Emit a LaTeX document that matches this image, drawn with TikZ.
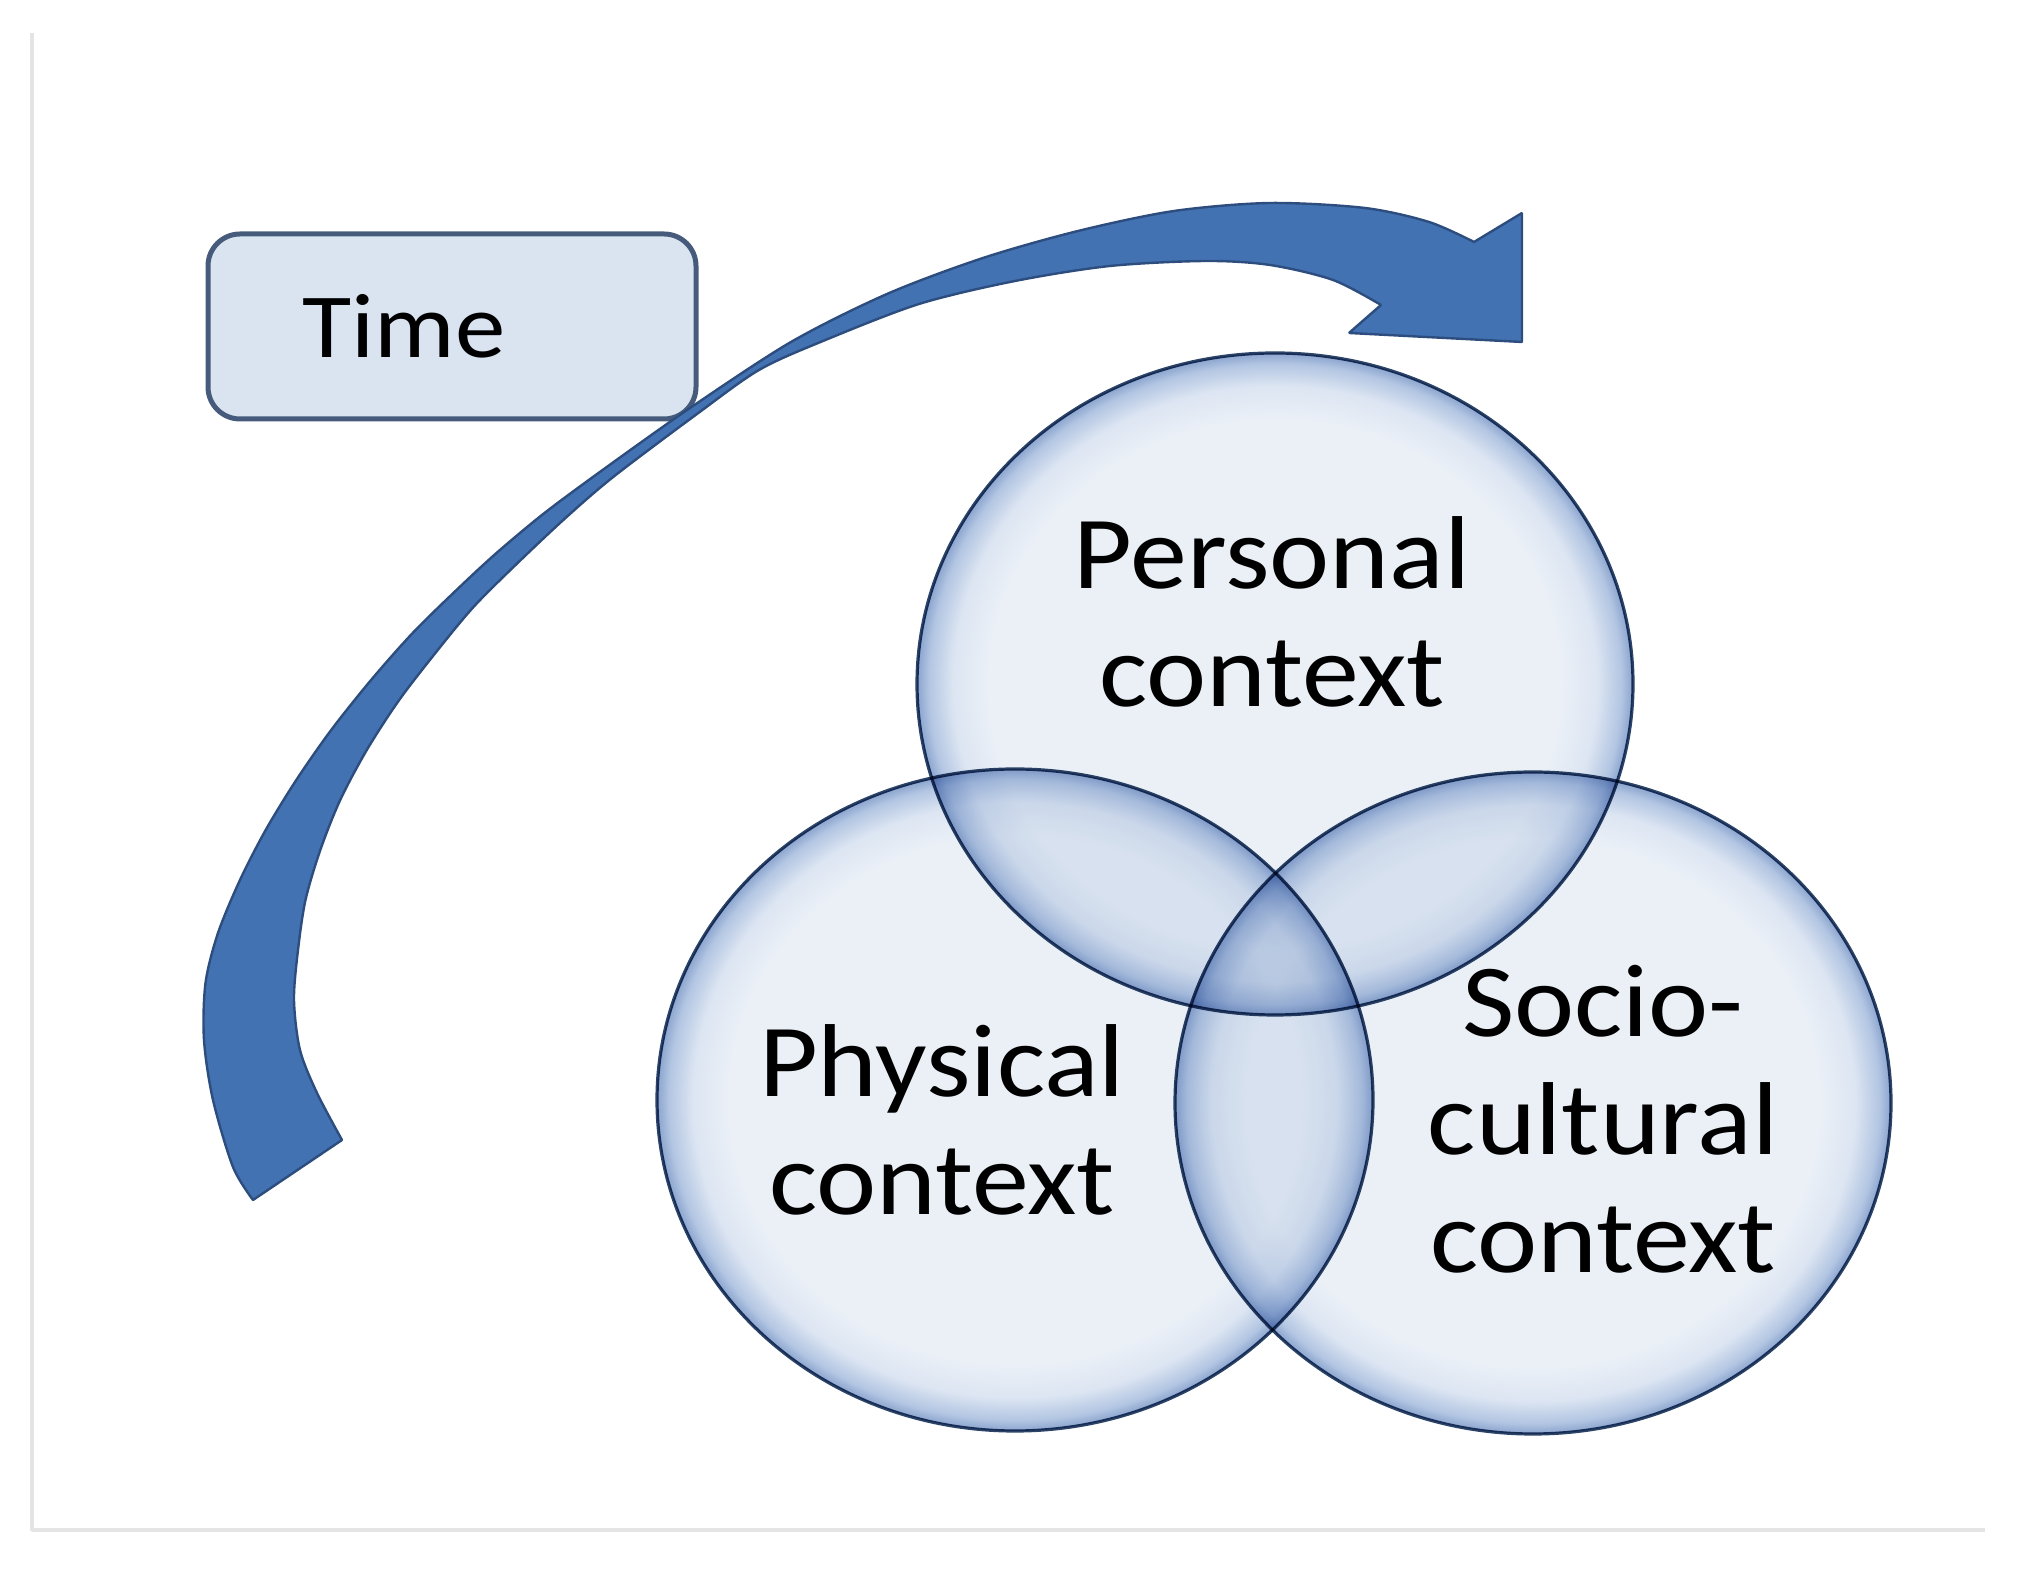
\documentclass[tikz,border=0pt]{standalone}
\usepackage{fontspec}
\setmainfont{Carlito}[FakeStretch=1.1]
\usetikzlibrary{shapes.geometric}
\definecolor{vennmid}{HTML}{EBF0F7}
\definecolor{vennsoft}{HTML}{DCE5F2}
\definecolor{vennrim}{HTML}{B2C5E2}
\definecolor{vennedge}{HTML}{8AA4CE}
\definecolor{vennline}{HTML}{2B4468}
\definecolor{boxfill}{HTML}{DAE4F1}
\definecolor{boxline}{HTML}{465B7C}
\definecolor{arrowfill}{HTML}{4372B3}
\definecolor{arrowline}{HTML}{2C4D7E}
\definecolor{framegray}{HTML}{E4E4E4}
\pgfdeclareradialshading{vennglass}{\pgfpoint{0bp}{0bp}}{color(0bp)=(vennmid);color(20bp)=(vennmid);color(22.5bp)=(vennsoft);color(24.2bp)=(vennrim);color(25bp)=(vennedge);color(50bp)=(vennedge)}
\begin{document}
\begin{tikzpicture}[>=latex,line join=bevel,
  venn/.style={ellipse,draw=vennline,line width=1.6bp,shading=vennglass,minimum width=358bp,minimum height=331bp,inner sep=0pt},
  vennlabel/.style={anchor=base,inner sep=0pt,font={\fontsize{52}{59}\selectfont}},
  timebox/.style={draw=boxline,fill=boxfill,line width=2.5bp,rounded corners=16bp,minimum width=244bp,minimum height=92.5bp,inner sep=0pt},
  timearrow/.style={draw=arrowline,fill=arrowfill,line width=1.2bp}]
\useasboundingbox (0bp,0bp) rectangle (1015bp,785.5bp);
%%
\draw [framegray,line width=2bp] (16bp,769bp) -- (16bp,20.5bp) -- (992.5bp,20.5bp);
%
\node (time_box) at (226bp,622.25bp) [timebox] {};
  \node (time_text) at (151bp,606.5bp) [anchor=base west,inner sep=0pt,font={\fontsize{46}{55}\selectfont}] {Time};
%
\draw [timearrow] plot [smooth,tension=0.5] coordinates {(126.5bp,185.5bp) (116.5bp,202bp) (106.5bp,235.5bp) (102bp,265.5bp) (102.75bp,294bp) (109bp,319bp) (120bp,345.5bp) (132.85bp,370.5bp) (148.15bp,395.5bp) (165.6bp,420.5bp) (185.55bp,445.5bp) (206.35bp,469bp) (228.25bp,490.5bp) (248.25bp,509bp) (272.25bp,529bp) (301.3bp,550.5bp) (345bp,581.5bp) (395.5bp,614.5bp) (443.5bp,638.5bp) (491.5bp,656.5bp) (539bp,670bp) (587bp,680bp) (635bp,684bp) (682.5bp,681.5bp) (714.5bp,674.5bp) (737bp,664.5bp)}
  -- (761bp,679bp) -- (761bp,614.5bp) -- (674.5bp,619bp) -- (690.5bp,633bp)
  -- plot [smooth,tension=0.5] coordinates {(690.5bp,633bp) (666.5bp,645.5bp) (635bp,653bp) (603bp,655bp) (555bp,652.5bp) (507.5bp,645bp) (459.5bp,633.5bp) (411.5bp,615bp) (379.5bp,600.5bp) (348.5bp,578.5bp) (306.6bp,547bp) (281.65bp,525.5bp) (256.75bp,502bp) (236.75bp,482bp) (218.9bp,460.5bp) (199.6bp,435.5bp) (183.4bp,410.5bp) (170.1bp,385.5bp) (160.15bp,360.5bp) (152.75bp,335.5bp) (149bp,310.5bp) (147bp,285.5bp) (150bp,260.5bp) (158.5bp,239bp) (171bp,215.5bp)}
  -- cycle;
%
\begin{scope}[blend mode=multiply]
  \node (personal) at (637.5bp,443.5bp) [venn] {};
  \node (physical) at (507.5bp,235.5bp) [venn] {};
  \node (socio) at (766.5bp,234bp) [venn] {};
\end{scope}
%
\node (personal_text) at (636bp,491bp) [vennlabel] {\begin{tabular}[t]{@{}c@{}}Personal\\context\end{tabular}};
  \node (physical_text) at (471bp,237bp) [vennlabel] {\begin{tabular}[t]{@{}c@{}}Physical\\context\end{tabular}};
  \node (socio_text) at (801.5bp,267bp) [vennlabel] {\begin{tabular}[t]{@{}c@{}}Socio-\\cultural\\context\end{tabular}};
%
\end{tikzpicture}
\end{document}
